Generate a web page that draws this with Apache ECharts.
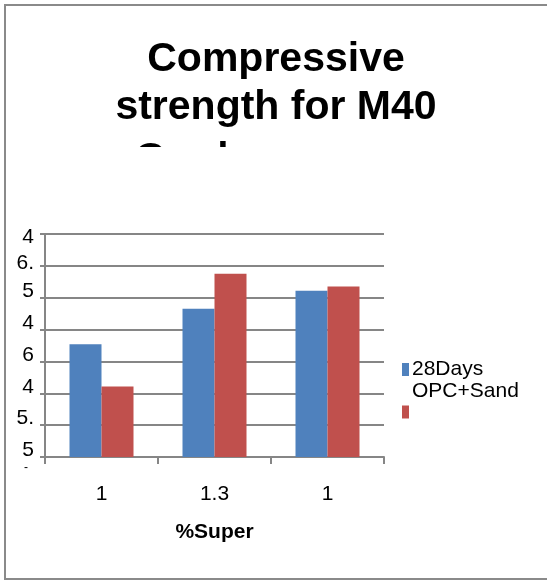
<!DOCTYPE html>
<html>
<head>
<meta charset="utf-8">
<script src="https://cdn.jsdelivr.net/npm/echarts@6/dist/echarts.min.js"></script>
<style>
html,body{margin:0;padding:0;background:#fff;}
#chart{width:547px;height:581px;}
</style>
</head>
<body>
<div id="chart"></div>
<script>
// ---- data ----
var categories = ['1', '1.3', '1'];
var seriesNames = ['28Days', 'OPC+Sand'];
var blueValues = [3.54, 4.65, 5.22];
var redValues = [2.21, 5.75, 5.35];
// y tick labels, bottom to top (as visible, clipped in the original)
var yTickLabels = ['5', '5.', '4', '6', '4', '5', '6.', '4'];
var titleLines = ['Compressive', 'strength for M40'];
var titleClippedLine = 'Grade';
var xAxisName = '%Super';

var FONT = '"Liberation Sans", Arial, sans-serif';
var chart = echarts.init(document.getElementById('chart'), null, {renderer: 'canvas'});

chart.setOption({
  backgroundColor: '#ffffff',
  animation: false,
  title: {
    text: titleLines.join('\n'),
    left: 276,
    textAlign: 'center',
    top: 36,
    padding: 0,
    textStyle: {fontFamily: FONT, fontWeight: 'bold', fontSize: 41, lineHeight: 48, color: '#000'}
  },
  legend: {
    orient: 'vertical',
    left: 402,
    top: 359,
    padding: 0,
    itemWidth: 7,
    itemHeight: 13,
    itemGap: 1,
    icon: 'rect',
    data: seriesNames,
    formatter: function (name) {
      return name === seriesNames[1] ? '{a|' + name + '}\n{b| }' : '{a|' + name + '}';
    },
    textStyle: {
      fontFamily: FONT, fontSize: 21, color: '#000', padding: [0, 0, 0, -2],
      rich: {
        a: {fontFamily: FONT, fontSize: 21, lineHeight: 26, color: '#000'},
        b: {fontFamily: FONT, fontSize: 21, lineHeight: 41, color: '#000'}
      }
    }
  },
  grid: {left: 45, right: 163, top: 234, bottom: 124, containLabel: false},
  xAxis: {
    type: 'category',
    data: categories,
    axisLine: {lineStyle: {color: '#868686', width: 2}},
    axisTick: {show: true, length: 7, lineStyle: {color: '#868686', width: 2}},
    axisLabel: {fontFamily: FONT, fontSize: 21, color: '#000', margin: 27},
    name: xAxisName,
    nameLocation: 'middle',
    nameGap: 65,
    nameTextStyle: {fontFamily: FONT, fontWeight: 'bold', fontSize: 21, color: '#000'}
  },
  yAxis: {
    type: 'value',
    min: 0,
    max: 7,
    interval: 1,
    axisLine: {show: true, lineStyle: {color: '#868686', width: 2}},
    axisTick: {show: true, length: 5, lineStyle: {color: '#868686', width: 2}},
    splitLine: {show: true, lineStyle: {color: '#868686', width: 2}},
    axisLabel: {
      fontFamily: FONT, fontSize: 21, color: '#000', margin: 11,
      formatter: function (v) {
        var i = Math.round(v);
        var n = yTickLabels.length;
        var key = i === n - 1 ? 't' : (i === n - 2 ? 's' : 'v');
        return '{' + key + '|' + yTickLabels[i] + '}';
      },
      rich: {
        v: {fontFamily: FONT, fontSize: 21, color: '#000', padding: [0, 0, 13, 0]},
        s: {fontFamily: FONT, fontSize: 21, color: '#000', padding: [0, 0, 6, 0]},
        t: {fontFamily: FONT, fontSize: 21, color: '#000', padding: [6, 0, 0, 0]}
      }
    }
  },
  series: [
    {name: seriesNames[0], type: 'bar', data: blueValues, barWidth: 32, barGap: '0%',
     itemStyle: {color: '#4F81BD'}},
    {name: seriesNames[1], type: 'bar', data: redValues, barWidth: 32, barGap: '0%',
     itemStyle: {color: '#C0504D'}}
  ],
  graphic: [
    {type: 'text', z: 50, left: 135, top: 140,
     style: {text: titleClippedLine, fontFamily: FONT, fontWeight: 'bold', fontSize: 40, fill: '#000'}},
    {type: 'rect', z: 60, shape: {x: 90, y: 147, width: 400, height: 80}, style: {fill: '#fff'}},
    {type: 'text', z: 50, left: 24, top: 462,
     style: {text: '-', fontFamily: FONT, fontSize: 12, fill: '#000'}},
    {type: 'rect', z: 100, shape: {x: 5, y: 5, width: 600, height: 574},
     style: {fill: null, stroke: '#8a8a8a', lineWidth: 2}}
  ]
});
</script>
</body>
</html>
